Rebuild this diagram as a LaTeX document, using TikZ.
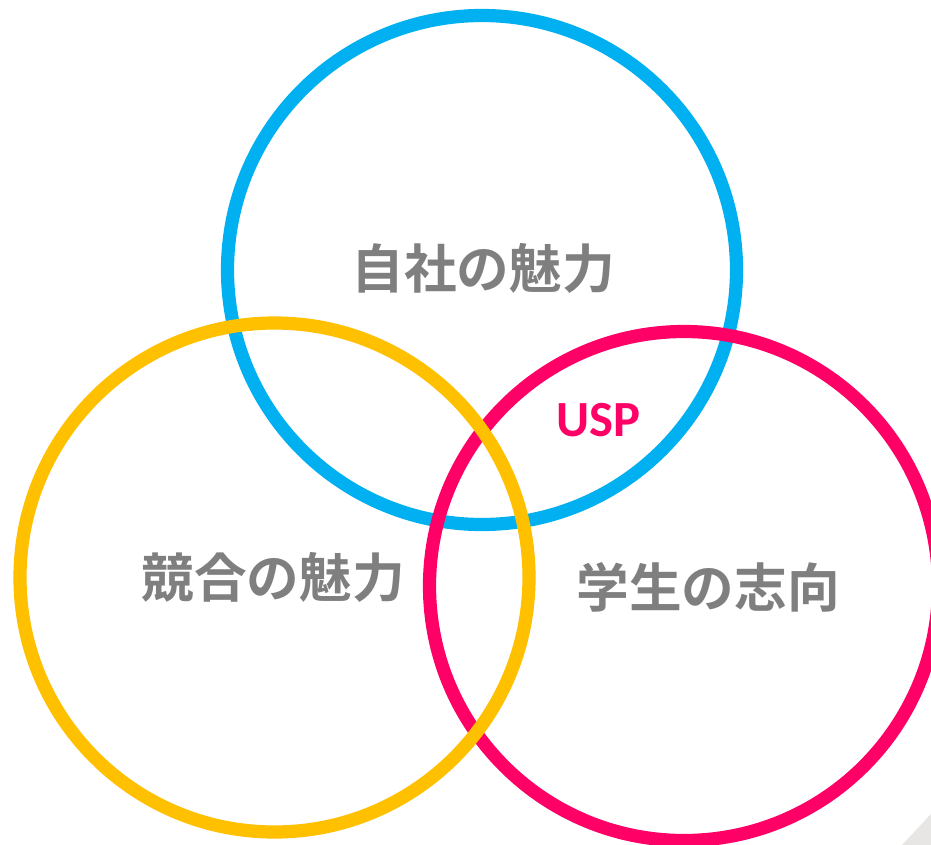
\documentclass[tikz,border=0pt]{standalone}
\usepackage{fontspec}
\newfontfamily\cjk{Noto Sans CJK JP Bold}
\newfontfamily\latinb{Carlito}[BoldFont={* Bold}]
\definecolor{ringblue}{HTML}{00B0F0}
\definecolor{ringyellow}{HTML}{FFC000}
\definecolor{ringpink}{HTML}{FF0066}
\definecolor{labelgray}{HTML}{7F7F7F}
\definecolor{curl}{HTML}{E8E6E4}
\begin{document}
\begin{tikzpicture}[x=0.75pt,y=-0.75pt,
  ring/.style={line width=9.9pt},
  lbl/.style={text=labelgray,font=\cjk\fontsize{39.5}{44}\selectfont,inner sep=0pt},
  usp/.style={text=ringpink,font=\latinb\bfseries\fontsize{38}{44}\selectfont,inner sep=0pt}]
\useasboundingbox (0,0) rectangle (931,845);
\fill[white] (0,0) rectangle (931,845);
\fill[curl] (902,845) -- (931,814) -- (931,845) -- cycle;
\begin{scope}
\clip (0,0) rectangle (931,845);
\draw[ring,ringblue] (482,270) circle[radius=254.5];
\draw[ring,ringpink] (684,586) circle[radius=254.5];
\draw[ring,ringyellow] (274.5,577.5) circle[radius=254.5];
\end{scope}
\node[lbl] (own) at (483,268) {自社の魅力};
\node[lbl] (comp) at (273,577) {競合の魅力};
\node[lbl] (stud) at (708,587) {学生の志向};
\node[usp] (uspnode) at (598,420) {USP};
\end{tikzpicture}
\end{document}
